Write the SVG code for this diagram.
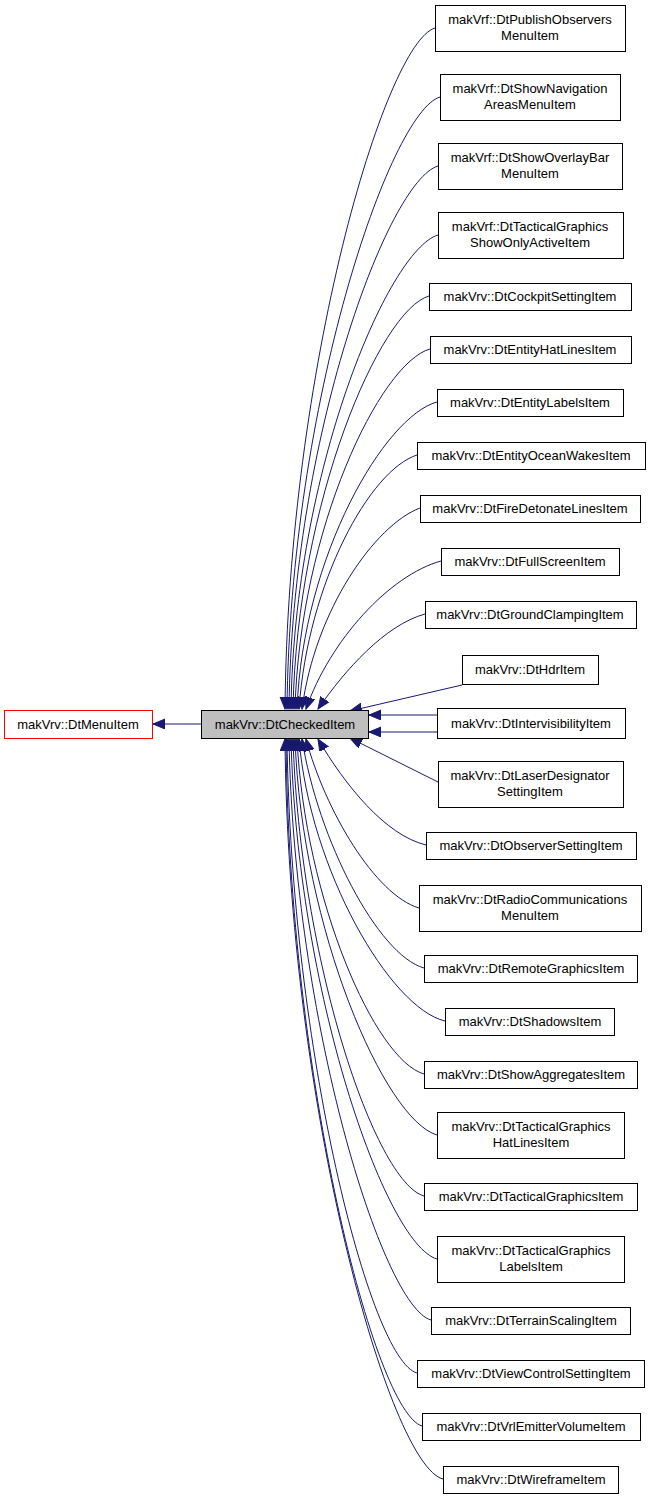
<svg xmlns="http://www.w3.org/2000/svg" width="651" height="1501" viewBox="0 0 651 1501">
<style>
.n rect{fill:#fff;stroke:#000;stroke-width:1}
text{font-family:"Liberation Sans",Arial,sans-serif;font-size:13px;text-anchor:middle;fill:#000}
#edges path{fill:none;stroke:#191970;stroke-width:1;marker-end:url(#a)}
</style>
<defs><marker id="a" markerUnits="userSpaceOnUse" markerWidth="14" markerHeight="12" refX="12" refY="5" orient="auto"><path d="M0,0 L12,5 L0,10 Z" fill="#191970" stroke="#191970"/></marker></defs>
<rect width="651" height="1501" fill="#fff"/>
<g id="edges">
<path d="M201,724 L153,724"/>
<path d="M435,28 C385,43 288,369 285,709"/>
<path d="M440,97 C390,112 290,403 287,709"/>
<path d="M438,166 C388,181 292,438 289,709"/>
<path d="M438,235 C388,250 294,472 291,709"/>
<path d="M429,296 C380,310 297,502 293,709"/>
<path d="M430,349 C380,363 300,529 295,709"/>
<path d="M437,402 C385,416 303,555 297,709"/>
<path d="M417,455 C370,470 308,582 299,709"/>
<path d="M420,508 C375,525 315,610 302,709"/>
<path d="M441,561 C390,575 330,640 306,709"/>
<path d="M425,614 C385,625 345,670 318,709"/>
<path d="M462,685 L350,711"/>
<path d="M437,715 L369,715"/>
<path d="M437,732 L369,732"/>
<path d="M438,782 L350,738"/>
<path d="M426,845 C385,835 345,785 318,739"/>
<path d="M419,908 C375,895 325,810 306,739"/>
<path d="M424,968 C378,955 318,840 302,739"/>
<path d="M445,1021 C390,1008 310,870 299,739"/>
<path d="M424,1074 C375,1060 305,900 297,739"/>
<path d="M437,1135 C385,1120 302,930 295,739"/>
<path d="M424,1196 C375,1182 300,960 293,739"/>
<path d="M437,1259 C385,1244 297,990 291,739"/>
<path d="M431,1320 C382,1306 294,1020 289,739"/>
<path d="M417,1373 C370,1360 291,1050 287,739"/>
<path d="M422,1426 C375,1412 289,1080 286,739"/>
<path d="M443,1479 C390,1466 288,1110 285,739"/>
</g>
<g id="menuitem" class="n"><rect x="4.5" y="710.5" width="148" height="28" style="stroke:#ff0000"/><text x="78" y="729">makVrv::DtMenuItem</text></g>
<g id="checked" class="n"><rect x="201.5" y="710.5" width="167" height="28" style="fill:#bfbfbf"/><text x="285" y="729">makVrv::DtCheckedItem</text></g>
<g id="n1" class="n"><rect x="435.5" y="5.5" width="190" height="46"/><text x="530" y="24">makVrf::DtPublishObservers</text><text x="530" y="40">MenuItem</text></g>
<g id="n2" class="n"><rect x="440.5" y="74.5" width="180" height="46"/><text x="530" y="93">makVrf::DtShowNavigation</text><text x="530" y="109">AreasMenuItem</text></g>
<g id="n3" class="n"><rect x="438.5" y="143.5" width="184" height="46"/><text x="530" y="162">makVrf::DtShowOverlayBar</text><text x="530" y="178">MenuItem</text></g>
<g id="n4" class="n"><rect x="438.5" y="212.5" width="185" height="46"/><text x="530" y="231">makVrf::DtTacticalGraphics</text><text x="530" y="247">ShowOnlyActiveItem</text></g>
<g id="n5" class="n"><rect x="429.5" y="283.5" width="202" height="27"/><text x="530" y="301">makVrv::DtCockpitSettingItem</text></g>
<g id="n6" class="n"><rect x="430.5" y="336.5" width="201" height="27"/><text x="530" y="354">makVrv::DtEntityHatLinesItem</text></g>
<g id="n7" class="n"><rect x="437.5" y="389.5" width="186" height="27"/><text x="530" y="407">makVrv::DtEntityLabelsItem</text></g>
<g id="n8" class="n"><rect x="417.5" y="442.5" width="228" height="27"/><text x="531" y="460">makVrv::DtEntityOceanWakesItem</text></g>
<g id="n9" class="n"><rect x="420.5" y="495.5" width="220" height="27"/><text x="530" y="513">makVrv::DtFireDetonateLinesItem</text></g>
<g id="n10" class="n"><rect x="441.5" y="548.5" width="178" height="27"/><text x="530" y="566">makVrv::DtFullScreenItem</text></g>
<g id="n11" class="n"><rect x="425.5" y="601.5" width="211" height="27"/><text x="530" y="619">makVrv::DtGroundClampingItem</text></g>
<g id="n12" class="n"><rect x="462.5" y="655.5" width="136" height="29"/><text x="530" y="674">makVrv::DtHdrItem</text></g>
<g id="n13" class="n"><rect x="437.5" y="708.5" width="188" height="30"/><text x="531" y="728">makVrv::DtIntervisibilityItem</text></g>
<g id="n14" class="n"><rect x="438.5" y="761.5" width="185" height="46"/><text x="530" y="780">makVrv::DtLaserDesignator</text><text x="530" y="796">SettingItem</text></g>
<g id="n15" class="n"><rect x="426.5" y="832.5" width="210" height="27"/><text x="531" y="850">makVrv::DtObserverSettingItem</text></g>
<g id="n16" class="n"><rect x="419.5" y="885.5" width="222" height="46"/><text x="530" y="904">makVrv::DtRadioCommunications</text><text x="530" y="920">MenuItem</text></g>
<g id="n17" class="n"><rect x="424.5" y="955.5" width="213" height="27"/><text x="531" y="973">makVrv::DtRemoteGraphicsItem</text></g>
<g id="n18" class="n"><rect x="445.5" y="1008.5" width="169" height="27"/><text x="530" y="1026">makVrv::DtShadowsItem</text></g>
<g id="n19" class="n"><rect x="424.5" y="1061.5" width="213" height="27"/><text x="531" y="1079">makVrv::DtShowAggregatesItem</text></g>
<g id="n20" class="n"><rect x="437.5" y="1112.5" width="187" height="46"/><text x="531" y="1131">makVrv::DtTacticalGraphics</text><text x="531" y="1147">HatLinesItem</text></g>
<g id="n21" class="n"><rect x="424.5" y="1183.5" width="213" height="27"/><text x="531" y="1201">makVrv::DtTacticalGraphicsItem</text></g>
<g id="n22" class="n"><rect x="437.5" y="1236.5" width="187" height="46"/><text x="531" y="1255">makVrv::DtTacticalGraphics</text><text x="531" y="1271">LabelsItem</text></g>
<g id="n23" class="n"><rect x="431.5" y="1307.5" width="199" height="27"/><text x="531" y="1325">makVrv::DtTerrainScalingItem</text></g>
<g id="n24" class="n"><rect x="417.5" y="1360.5" width="227" height="27"/><text x="531" y="1378">makVrv::DtViewControlSettingItem</text></g>
<g id="n25" class="n"><rect x="422.5" y="1413.5" width="218" height="27"/><text x="531" y="1431">makVrv::DtVrlEmitterVolumeItem</text></g>
<g id="n26" class="n"><rect x="443.5" y="1466.5" width="175" height="27"/><text x="531" y="1484">makVrv::DtWireframeItem</text></g>
</svg>
